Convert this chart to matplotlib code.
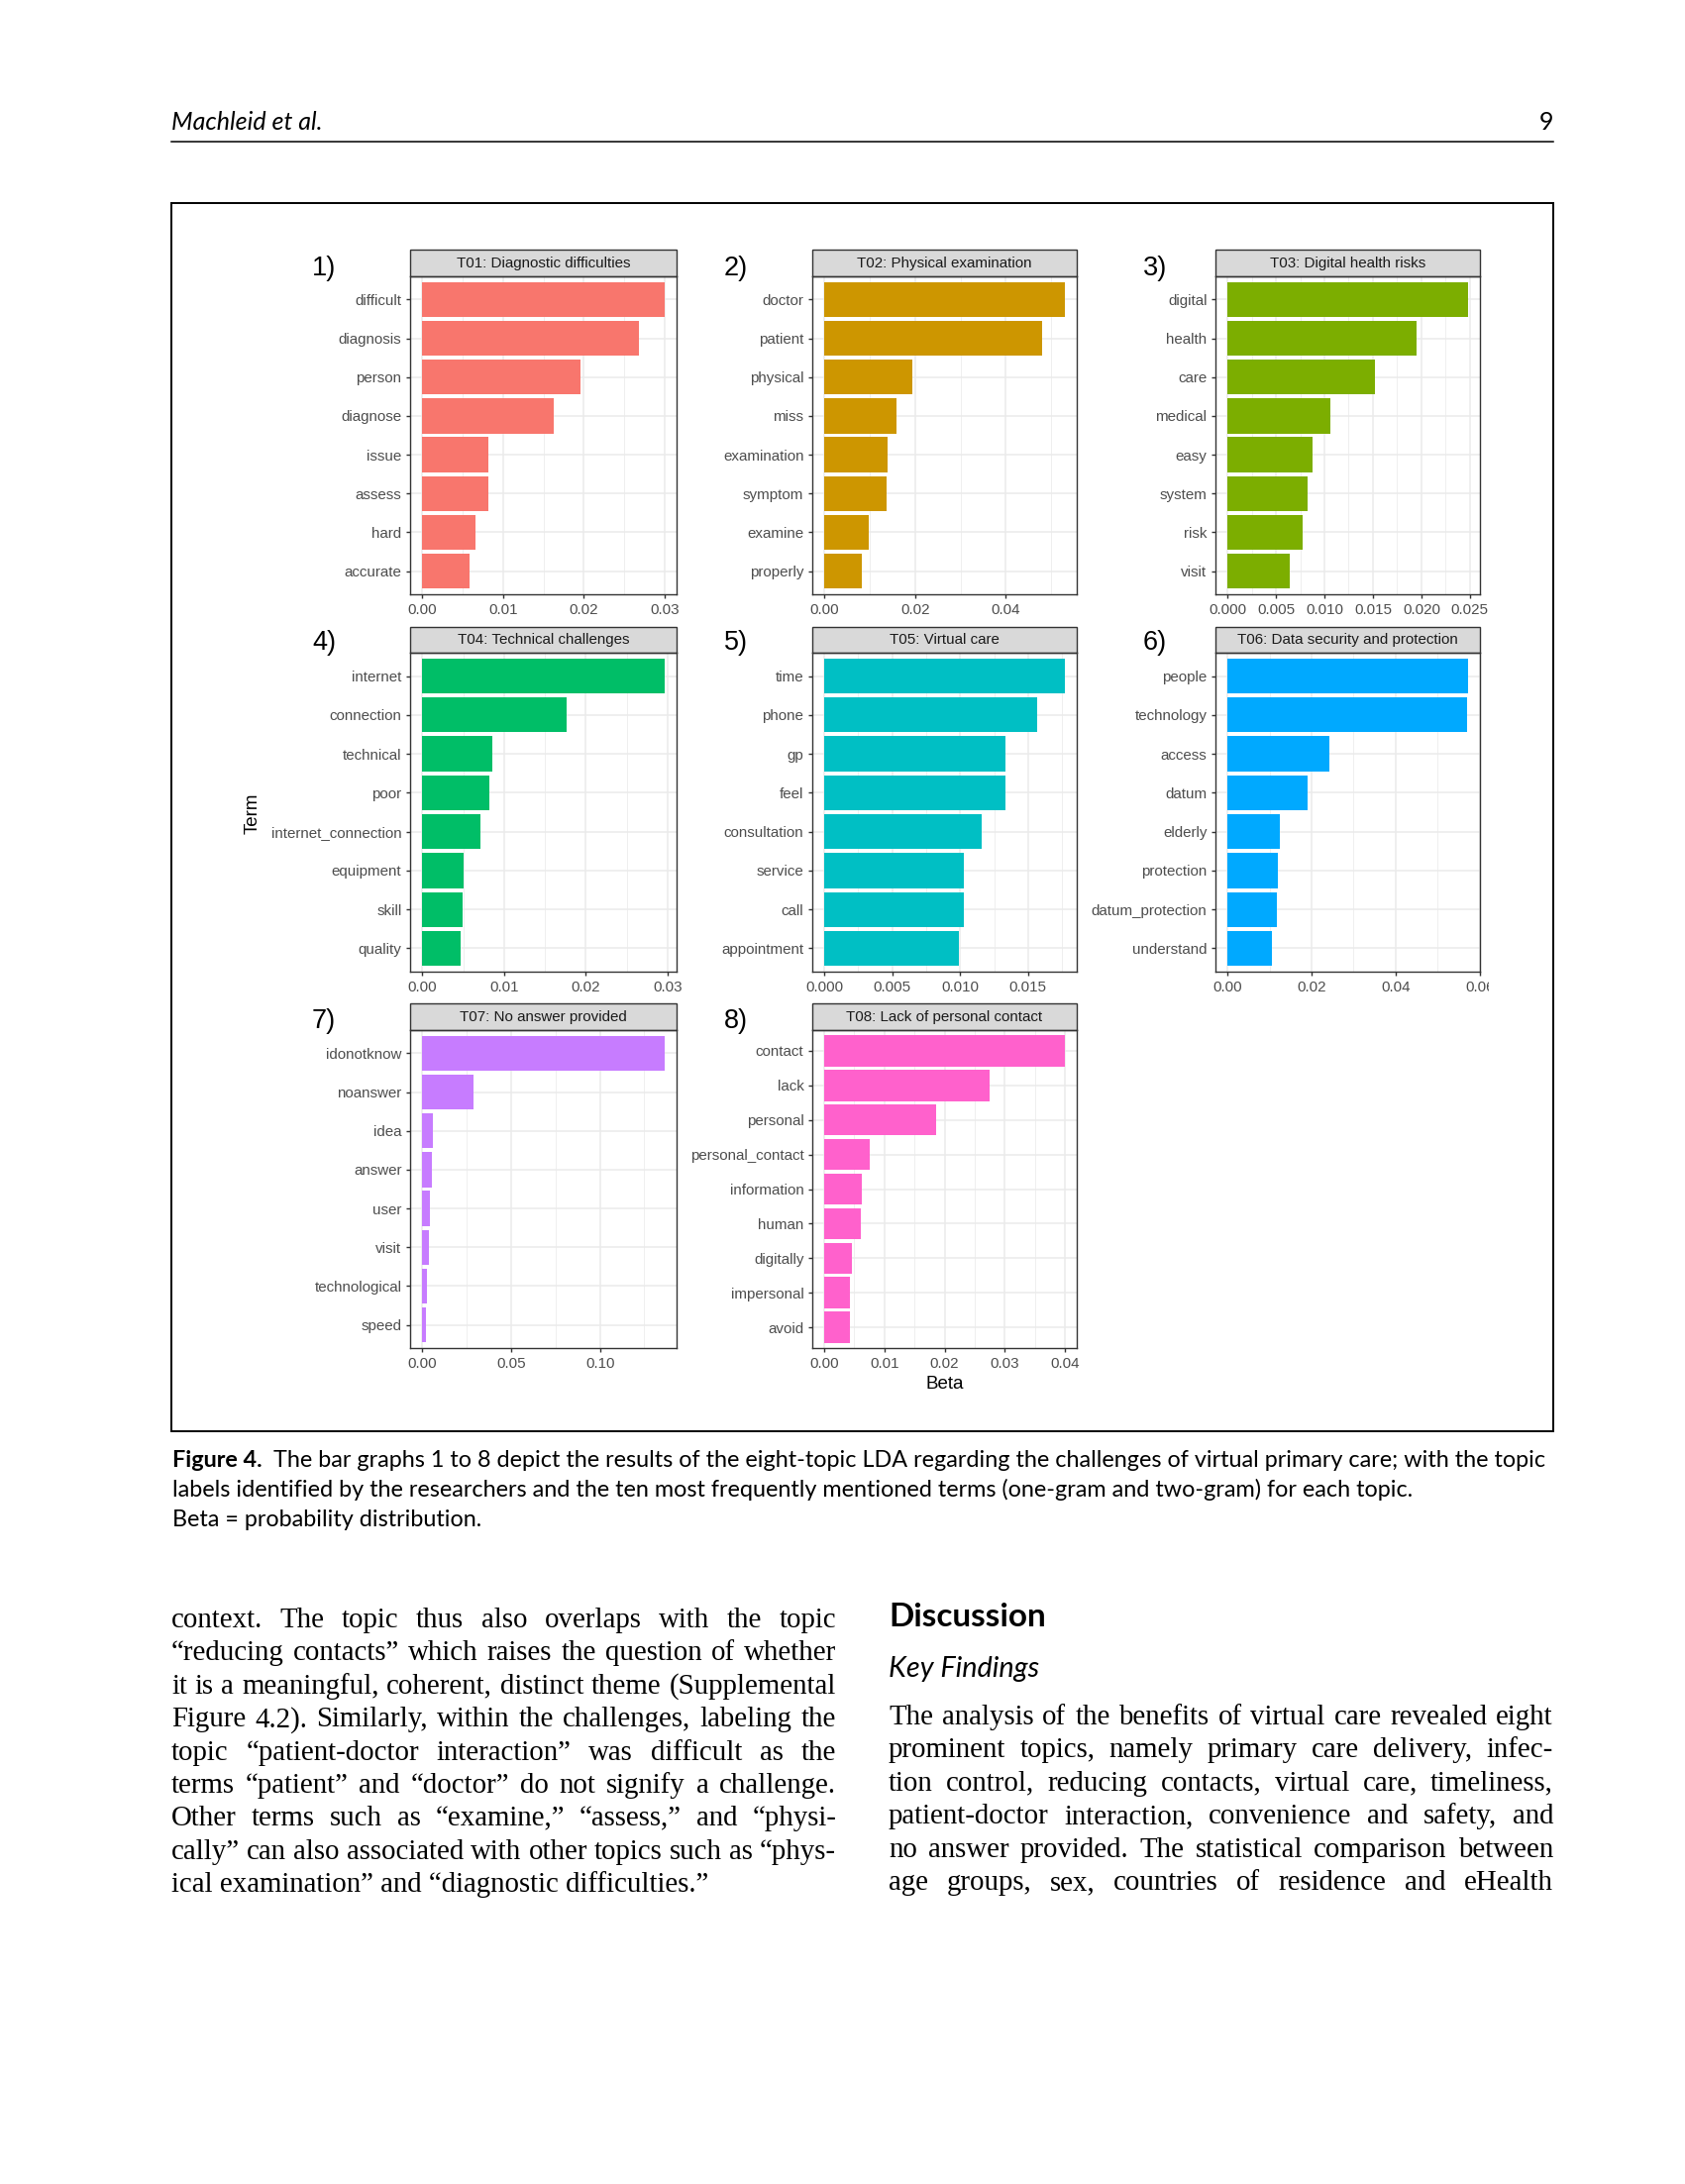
import matplotlib
matplotlib.use("Agg")
import matplotlib.pyplot as plt
from matplotlib.patches import Rectangle
from matplotlib.lines import Line2D
from matplotlib.transforms import Bbox, TransformedBbox
import numpy as np

W, H = 1701, 2205

# topic titles and the top terms (beta)
topics = ["T01: Diagnostic difficulties", "T02: Physical examination",
          "T03: Digital health risks", "T04: Technical challenges",
          "T05: Virtual care", "T06: Data security and protection",
          "T07: No answer provided", "T08: Lack of personal contact"]

terms_t01 = ["difficult", "diagnosis", "person", "diagnose", "issue", "assess", "hard", "accurate"]
beta_t01 = [0.0300, 0.0268, 0.0196, 0.0163, 0.0082, 0.0082, 0.0066, 0.0058]

terms_t02 = ["doctor", "patient", "physical", "miss", "examination", "symptom", "examine", "properly"]
beta_t02 = [0.0530, 0.0481, 0.0195, 0.0160, 0.0139, 0.0137, 0.0098, 0.0083]

terms_t03 = ["digital", "health", "care", "medical", "easy", "system", "risk", "visit"]
beta_t03 = [0.0248, 0.0195, 0.0152, 0.0106, 0.0088, 0.0083, 0.0078, 0.0064]

terms_t04 = ["internet", "connection", "technical", "poor", "internet_connection",
             "equipment", "skill", "quality"]
beta_t04 = [0.0296, 0.0176, 0.0086, 0.0082, 0.0071, 0.0051, 0.0049, 0.0047]

terms_t05 = ["time", "phone", "gp", "feel", "consultation", "service", "call", "appointment"]
beta_t05 = [0.0177, 0.0157, 0.0133, 0.0133, 0.0116, 0.0103, 0.0103, 0.0099]

terms_t06 = ["people", "technology", "access", "datum", "elderly", "protection",
             "datum_protection", "understand"]
beta_t06 = [0.0572, 0.0570, 0.0243, 0.0191, 0.0124, 0.0120, 0.0117, 0.0105]

terms_t07 = ["idonotknow", "noanswer", "idea", "answer", "user", "visit", "technological", "speed"]
beta_t07 = [0.1363, 0.0289, 0.0058, 0.0052, 0.0045, 0.0035, 0.0028, 0.0022]

terms_t08 = ["contact", "lack", "personal", "personal_contact", "information", "human",
             "digitally", "impersonal", "avoid"]
beta_t08 = [0.0400, 0.0275, 0.0186, 0.0076, 0.0062, 0.0061, 0.0046, 0.0043, 0.0043]

all_terms = [terms_t01, terms_t02, terms_t03, terms_t04, terms_t05, terms_t06, terms_t07, terms_t08]
all_beta = [beta_t01, beta_t02, beta_t03, beta_t04, beta_t05, beta_t06, beta_t07, beta_t08]

xticks = [[0, 0.01, 0.02, 0.03], [0, 0.02, 0.04], [0, 0.005, 0.01, 0.015, 0.02, 0.025],
          [0, 0.01, 0.02, 0.03], [0, 0.005, 0.01, 0.015], [0, 0.02, 0.04, 0.06],
          [0, 0.05, 0.10], [0, 0.01, 0.02, 0.03, 0.04]]
xtick_fmt = ["%.2f", "%.2f", "%.3f", "%.2f", "%.3f", "%.2f", "%.2f", "%.2f"]

colors = ["#F8766D", "#CD9600", "#7CAE00", "#00BE67", "#00BFC4", "#00A9FF", "#C77CFF", "#FF61CC"]

header_left = "Machleid et al."
header_right = "9"
caption_lines = [
    "The bar graphs 1 to 8 depict the results of the eight-topic LDA regarding the challenges of virtual primary care; with the topic",
    "labels identified by the researchers and the ten most frequently mentioned terms (one-gram and two-gram) for each topic.",
    "Beta = probability distribution.",
]
left_col = [
    "context. The topic thus also overlaps with the topic",
    "\u201creducing contacts\u201d which raises the question of whether",
    "it is a meaningful, coherent, distinct theme (Supplemental",
    "Figure 4.2). Similarly, within the challenges, labeling the",
    "topic \u201cpatient-doctor interaction\u201d was difficult as the",
    "terms \u201cpatient\u201d and \u201cdoctor\u201d do not signify a challenge.",
    "Other terms such as \u201cexamine,\u201d \u201cassess,\u201d and \u201cphysi-",
    "cally\u201d can also associated with other topics such as \u201cphys-",
    "ical examination\u201d and \u201cdiagnostic difficulties.\u201d",
]
right_col = [
    "The analysis of the benefits of virtual care revealed eight",
    "prominent topics, namely primary care delivery, infec-",
    "tion control, reducing contacts, virtual care, timeliness,",
    "patient-doctor interaction, convenience and safety, and",
    "no answer provided. The statistical comparison between",
    "age groups, sex, countries of residence and eHealth",
]

fig = plt.figure(figsize=(W / 100, H / 100), dpi=100)
renderer = fig.canvas.get_renderer()


def fx(x):
    return x / W


def fy(y):
    return 1 - y / H


def text_width(s, **kw):
    t = fig.text(0, 0, s, **kw)
    w = t.get_window_extent(renderer).width
    t.remove()
    return w


def fit_size(s, target, base=20, **kw):
    return base * target / text_width(s, fontsize=base, **kw)


def put_line(s, x0, x1, y, justify, **kw):
    words = s.split(" ")
    if not justify:
        fig.text(fx(x0), fy(y), s, va="baseline", **kw)
        return
    widths = [text_width(w, **kw) for w in words]
    gap = (x1 - x0 - sum(widths)) / (len(words) - 1)
    x = x0
    for w, wd in zip(words, widths):
        fig.text(fx(x), fy(y), w, va="baseline", **kw)
        x += wd + gap


# ---- the facetted bar charts ----
cols = [(414, 683), (820, 1087), (1227, 1494)]
rows = [(252, 279, 600), (633, 659, 981), (1013, 1040, 1361)]
label_x = [327, 743, 1166]
label_y = [271, 649, 1031]
txt_kw = dict(family="Liberation Sans")

for i in range(8):
    r, c = divmod(i, 3)
    x0, x1 = cols[c]
    st, pt, pb = rows[r]
    ax = fig.add_axes([fx(x0), fy(pb), (x1 - x0) / W, (pb - pt) / H])
    terms, vals = all_terms[i], all_beta[i]
    n = len(terms)
    ax.barh(np.arange(n), vals, height=0.9, color=colors[i], zorder=2)
    vmax = max(vals)
    ax.set_xlim(-0.05 * vmax, 1.05 * vmax)
    ax.set_ylim(n - 1 + 0.6, -0.6)
    ax.set_yticks(np.arange(n))
    ax.set_yticklabels(terms, color="#4D4D4D", fontsize=10.9, **txt_kw)
    ticks = xticks[i]
    ax.set_xticks(ticks)
    ax.set_xticklabels([xtick_fmt[i] % t for t in ticks], color="#4D4D4D", fontsize=10.9, **txt_kw)
    step = ticks[1] - ticks[0]
    minor = [t + step / 2 for t in ticks]
    ax.set_xticks([m for m in minor if m < 1.05 * vmax], minor=True)
    ax.set_axisbelow(True)
    ax.grid(which="major", color="#EBEBEB", lw=1.1, zorder=0)
    ax.grid(which="minor", axis="x", color="#EBEBEB", lw=0.55, zorder=0)
    ax.tick_params(which="major", length=3, width=1.0, color="#333333", pad=3.2)
    ax.tick_params(which="minor", length=0)
    for sp in ax.spines.values():
        sp.set_color("#333333")
        sp.set_linewidth(1.0)
    h = (pt - st) / (pb - pt)
    ax.add_patch(Rectangle((0, 1), 1, h, transform=ax.transAxes, clip_on=False,
                           facecolor="#D9D9D9", edgecolor="#333333", lw=1.0))
    ax.text(0.5, 1 + h / 2, topics[i], transform=ax.transAxes, ha="center", va="center",
            fontsize=10.9, color="#1A1A1A", **txt_kw)
    fig.text(fx(label_x[c]), fy(label_y[r]), "%d)" % (i + 1), ha="center", va="center",
             fontsize=19.5, color="black", **txt_kw)
    if i == 5:
        # the source image was cropped through the last tick label
        lab = ax.get_xticklabels()[-1]
        lab.set_clip_on(True)
        lab.set_clip_box(TransformedBbox(Bbox.from_extents(0, 0, fx(1503), 1), fig.transFigure))

fig.text(fx(255), fy(821), "Term", rotation=90, ha="center", va="center", fontsize=13.5, **txt_kw)
fig.text(fx(954), fy(1397), "Beta", ha="center", va="center", fontsize=13.5, **txt_kw)

# ---- page furniture ----
hs = fit_size(header_left, 152, family="Lato", style="italic")
fig.text(fx(173), fy(131), header_left, family="Lato", style="italic", fontsize=hs, va="baseline")
fig.text(fx(1568), fy(131), header_right, family="Lato", fontsize=hs, va="baseline", ha="right")
fig.add_artist(Line2D([fx(173), fx(1568)], [fy(143), fy(143)], color="black", lw=1.1))
fig.add_artist(Rectangle((fx(173), fy(1445)), (1568 - 173) / W, (1445 - 205) / H, fill=False,
                         edgecolor="black", lw=1.4, transform=fig.transFigure))

# caption
fw = text_width("Figure 4.  ", fontsize=20, family="Lato", weight="bold")
cw = text_width(caption_lines[0], fontsize=20, family="Lato")
cs = 20 * 1387 / (fw + cw)
fig.text(fx(174), fy(1481), "Figure 4.", family="Lato", weight="bold", fontsize=cs, va="baseline")
bold_w = text_width("Figure 4.  ", fontsize=cs, family="Lato", weight="bold")
fig.text(fx(174 + bold_w), fy(1481), caption_lines[0], family="Lato", fontsize=cs, va="baseline")
fig.text(fx(174), fy(1511), caption_lines[1], family="Lato", fontsize=cs, va="baseline")
fig.text(fx(174), fy(1541), caption_lines[2], family="Lato", fontsize=cs, va="baseline")

# body text, two justified columns
serif = dict(family="Liberation Serif")
bs = min(fit_size(s, 671, **serif) for s in left_col[:-1] + right_col)
for k, s in enumerate(left_col):
    put_line(s, 173, 844, 1643 + 33.4 * k, k < len(left_col) - 1, fontsize=bs, **serif)
for k, s in enumerate(right_col):
    put_line(s, 897, 1568, 1741 + 33.4 * k, True, fontsize=bs, **serif)

fig.text(fx(897), fy(1642), "Discussion", family="Lato", weight="bold", va="baseline",
         fontsize=fit_size("Discussion", 159, family="Lato", weight="bold"))
fig.text(fx(897), fy(1693), "Key Findings", family="Lato", style="italic", va="baseline",
         fontsize=fit_size("Key Findings", 152, family="Lato", style="italic"))

fig.savefig("out.png", dpi=100, facecolor="white")
